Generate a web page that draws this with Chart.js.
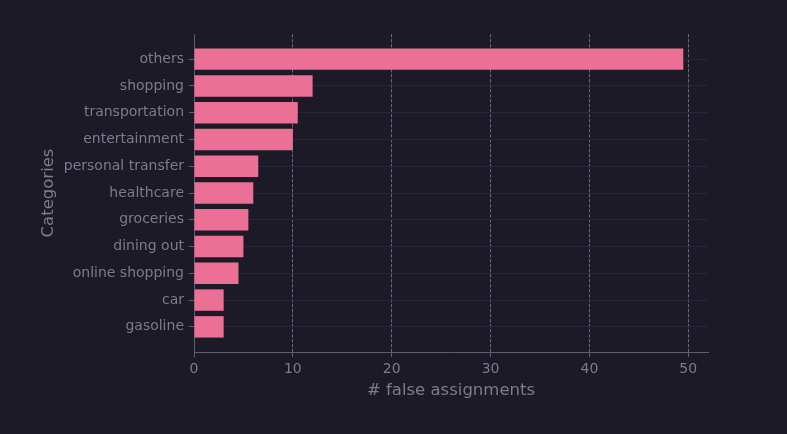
<!DOCTYPE html>
<html>
<head>
<meta charset="utf-8">
<script src="https://cdn.jsdelivr.net/npm/chart.js@4"></script>
<style>
  html, body { margin: 0; padding: 0; background: #1b1a26; }
  #wrap { width: 787px; height: 434px; }
</style>
</head>
<body>
<div id="wrap"><canvas id="c" width="787" height="434"></canvas></div>
<script>
const categories = ["others", "shopping", "transportation", "entertainment", "personal transfer",
  "healthcare", "groceries", "dining out", "online shopping", "car", "gasoline"];
const falseAssignments = [49.5, 12, 10.5, 10, 6.5, 6, 5.5, 5, 4.5, 3, 3];
const xTickValues = [0, 10, 20, 30, 40, 50];

const textColor = "#7d7b8c";
const axisColor = "#5f5e6e";

const points = falseAssignments.map((v, i) => ({ x: v, y: i }));

new Chart(document.getElementById("c"), {
  type: "bar",
  data: {
    datasets: [{
      data: points,
      backgroundColor: "#ec7096",
      borderWidth: 0,
      barPercentage: 0.8,
      categoryPercentage: 1.0
    }]
  },
  options: {
    indexAxis: "y",
    responsive: false,
    animation: false,
    devicePixelRatio: 1,
    layout: { padding: { left: 39, right: 79, top: 34, bottom: 33 } },
    plugins: { legend: { display: false }, tooltip: { enabled: false } },
    scales: {
      x: {
        type: "linear",
        min: 0,
        max: 52,
        offset: false,
        afterFit: s => { s.height = 49; },
        afterBuildTicks: s => { s.ticks = xTickValues.map(v => ({ value: v })); },
        ticks: { color: textColor, font: { family: "DejaVu Sans", size: 14 }, padding: 4, maxRotation: 0 },
        grid: { offset: false, color: "#66657a", lineWidth: 1, tickLength: 5, tickColor: axisColor, tickBorderDash: [] },
        border: { display: true, color: axisColor, width: 1, dash: [3.5, 1.5] },
        title: { display: true, text: "# false assignments", color: textColor,
                 font: { family: "DejaVu Sans", size: 16.5 }, padding: { top: 0, bottom: 0 } }
      },
      y: {
        type: "linear",
        reverse: true,
        min: -0.94,
        max: 10.94,
        offset: false,
        afterFit: s => { s.width = 155; },
        afterBuildTicks: s => { s.ticks = categories.map((_, i) => ({ value: i })); },
        ticks: { color: textColor, font: { family: "DejaVu Sans", size: 14 }, padding: 5,
                 callback: v => categories[v] },
        grid: { offset: false, color: "#27273c", lineWidth: 1, tickLength: 5, tickColor: axisColor },
        border: { display: true, color: axisColor, width: 1 },
        title: { display: true, text: "Categories", color: textColor,
                 font: { family: "DejaVu Sans", size: 16.5 }, padding: { top: 0, bottom: 0 } }
      }
    }
  }
});
</script>
</body>
</html>
